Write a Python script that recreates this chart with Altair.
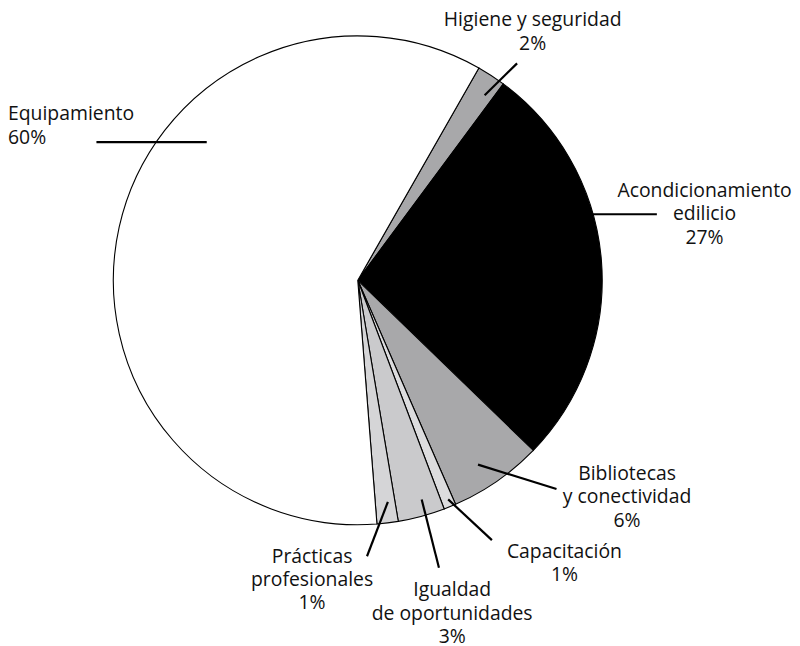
import altair as alt
import pandas as pd
import math

# ---- data ----
categories = ["Higiene y seguridad", "Acondicionamiento edilicio", "Bibliotecas y conectividad",
              "Capacitación", "Igualdad de oportunidades", "Prácticas profesionales", "Equipamiento"]
values = [1.9, 27.1, 6.2, 0.8, 3.1, 1.4, 59.5]
label_lines = ["Higiene y seguridad", "Acondicionamiento\nedilicio", "Bibliotecas\ny conectividad",
               "Capacitación", "Igualdad\nde oportunidades", "Prácticas\nprofesionales", "Equipamiento"]
colors = ["#a8a8aa", "#000000", "#a8a8aa", "#dcdcde", "#cacacc", "#d5d5d7", "#ffffff"]

# ---- layout (pixel positions inside the chart area) ----
CX, CY, R = 351, 271, 246
START = math.radians(29.7)
label_pos = {  # x, first baseline y, align
    "Higiene y seguridad": (527, 15.5, "center"),
    "Acondicionamiento edilicio": (700, 187, "center"),
    "Bibliotecas y conectividad": (622, 472, "center"),
    "Capacitación": (559, 550, "center"),
    "Igualdad de oportunidades": (446, 589, "center"),
    "Prácticas profesionales": (305, 555, "center"),
    "Equipamiento": (-1, 110, "left"),
}
leaders = {  # x, y, x2, y2
    "Higiene y seguridad": (478.7, 84.7, 511.3, 52.7),
    "Acondicionamiento edilicio": (585, 204.5, 652, 204.5),
    "Bibliotecas y conectividad": (472, 456.5, 551, 481),
    "Capacitación": (442, 491.5, 486, 532.5),
    "Igualdad de oportunidades": (415.3, 491.5, 432.7, 560.3),
    "Prácticas profesionales": (381.3, 494, 360.3, 548.7),
    "Equipamiento": (88, 132, 199, 132),
}

df = pd.DataFrame({
    "cat": categories,
    "value": values,
    "idx": list(range(len(categories))),
})

pie = alt.Chart(df).mark_arc(stroke="black", strokeWidth=1.1, outerRadius=R).encode(
    theta=alt.Theta("value:Q", stack=True,
                    scale=alt.Scale(range=[START, START + 2 * math.pi])),
    order=alt.Order("idx:Q"),
    color=alt.Color("cat:N", scale=alt.Scale(domain=categories, range=colors), legend=None),
    x=alt.value(CX),
    y=alt.value(CY),
)

lead_df = pd.DataFrame([
    {"cat": c, "x": leaders[c][0], "y": leaders[c][1], "x2": leaders[c][2], "y2": leaders[c][3]}
    for c in categories
])
rules = alt.Chart(lead_df).mark_rule(color="black", strokeWidth=2.2).encode(
    x=alt.X("x:Q", scale=None), y=alt.Y("y:Q", scale=None),
    x2="x2:Q", y2="y2:Q",
)

lab_rows = []
for c, lines, v in zip(categories, label_lines, values):
    x, y, a = label_pos[c]
    lab_rows.append({"cat": c, "x": x, "y": y, "align": a,
                     "text": lines + "\n" + f"{int(v + 0.5)}%"})
lab_df = pd.DataFrame(lab_rows)

def text_layer(align):
    return alt.Chart(lab_df[lab_df["align"] == align]).mark_text(
        align=align, baseline="alphabetic", lineBreak="\n", lineHeight=23.5,
        font="Open Sans", fontSize=19.5, color="#111111",
    ).encode(
        x=alt.X("x:Q", scale=None), y=alt.Y("y:Q", scale=None), text="text:N",
    )

chart = alt.layer(pie, rules, text_layer("center"), text_layer("left")).properties(
    width=784, height=638, padding=0,
).configure_view(stroke=None)

chart.save("out.html", embed_options={"renderer": "svg", "actions": False})
